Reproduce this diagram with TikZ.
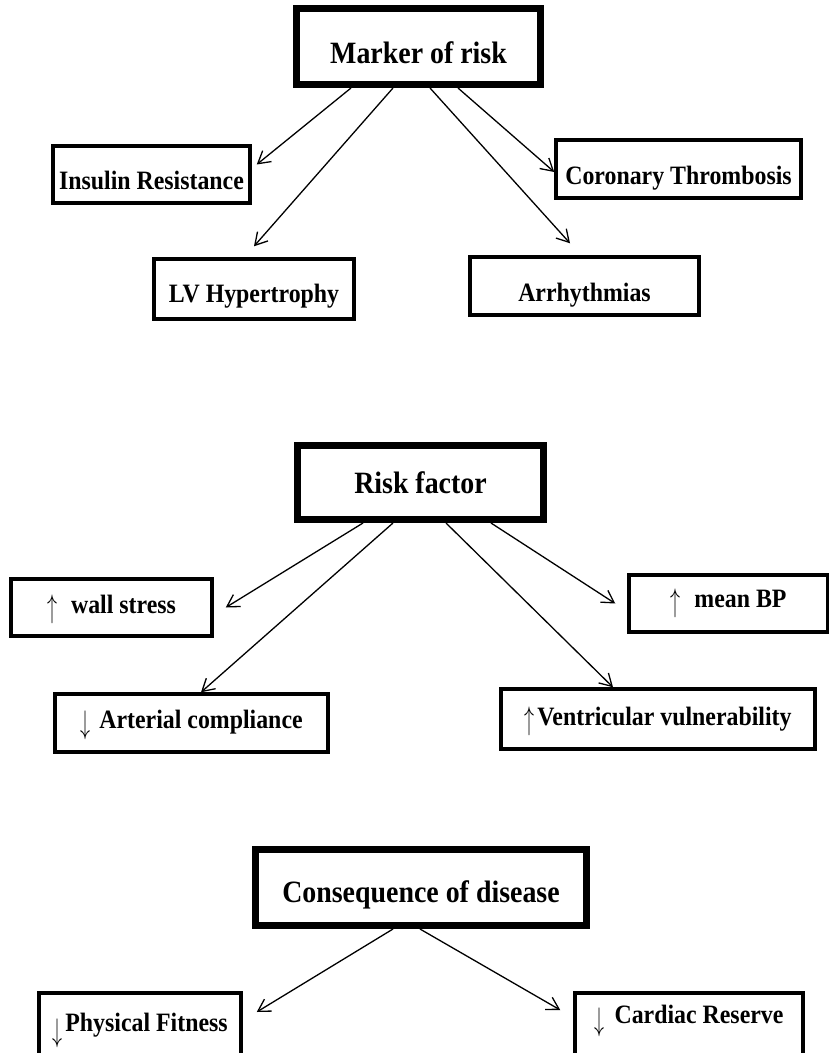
\documentclass[tikz,border=0pt]{standalone}
\usepackage{fontspec}
\setmainfont{Liberation Serif}[FakeStretch=0.9]
\usetikzlibrary{arrows.meta}
\newcommand{\upar}[1][-11pt]{\raisebox{#1}{\resizebox*{10pt}{29pt}{\raisebox{\depth}{$\uparrow$}}}}
\newcommand{\dnar}[1][-11pt]{\raisebox{#1}{\resizebox*{10pt}{29pt}{\raisebox{\depth}{$\downarrow$}}}}
\begin{document}
\begin{tikzpicture}[x=1pt,y=-1pt,>={Straight Barb[length=12pt,width=14pt]},
 head/.style={draw,line width=7pt,text depth=0pt,font=\fontsize{31}{33}\selectfont\bfseries},
 leaf/.style={draw,line width=3.5pt,text depth=0pt,font=\fontsize{26.5}{28}\selectfont\bfseries},
 link/.style={->,line width=1.3pt}]
 \useasboundingbox (0,0) rectangle (828,1053);
 % marker of risk
 \node[head,minimum width=244pt,minimum height=76pt,text height=33pt] (marker) at (418.5,46.5) {Marker of risk};
 \node[leaf,minimum width=197pt,minimum height=57pt,text height=29pt] (insulin) at (151.5,174.5) {Insulin Resistance};
 \node[leaf,minimum width=245pt,minimum height=58pt,text height=30pt] (coronary) at (678.5,169) {Coronary Thrombosis};
 \node[leaf,minimum width=200pt,minimum height=60pt,text height=26pt] (lvh) at (254,289) {LV Hypertrophy};
 \node[leaf,minimum width=229pt,minimum height=58pt,text height=30pt] (arrhyth) at (584.5,286) {Arrhythmias};
 \draw[link] ([xshift=-67.5pt]marker.south) -- ([xshift=5pt,yshift=10pt]insulin.east);
 \draw[link] ([xshift=-25.5pt]marker.south) -- ([yshift=11pt]lvh.north);
 \draw[link] ([xshift=11.5pt]marker.south) -- ([xshift=-14.5pt,yshift=12pt]arrhyth.north);
 \draw[link] ([xshift=39.5pt]marker.south) -- ([yshift=-3pt]coronary.west);
 % risk factor
 \node[head,minimum width=246pt,minimum height=74pt,text height=21pt] (risk) at (420.5,482.5) {Risk factor};
 \node[leaf,minimum width=201pt,minimum height=57pt,text height=11pt] (wall) at (111.5,607.5) {\upar\hspace{14pt}wall stress};
 \node[leaf,minimum width=199pt,minimum height=57pt,text height=7pt] (meanbp) at (728.5,603.5) {\upar\hspace{14pt}mean BP\hspace{28pt}};
 \node[leaf,minimum width=273pt,minimum height=58pt,text height=10pt] (arterial) at (191.5,723) {\dnar[-12pt]\hspace{9pt}Arterial compliance};
 \node[leaf,minimum width=314pt,minimum height=60pt,text height=12pt] (ventric) at (658,719) {\upar\hspace{3pt}Ventricular vulnerability};
 \draw[link] ([xshift=-57.5pt]risk.south) -- ([xshift=12pt]wall.east);
 \draw[link] ([xshift=-27.5pt]risk.south) -- ([xshift=9.5pt]arterial.north);
 \draw[link] ([xshift=25.5pt]risk.south) -- ([xshift=-45pt]ventric.north);
 \draw[link] ([xshift=70.5pt]risk.south) -- ([xshift=-12pt]meanbp.west);
 % consequence of disease
 \node[head,minimum width=331pt,minimum height=76pt,text height=29pt] (conseq) at (421,887.5) {Consequence of disease};
 \node[leaf,minimum width=202pt,minimum height=63pt,text height=13pt] (fitness) at (140,1024.5) {\dnar[-17pt]\hspace{3pt}Physical Fitness};
 \node[leaf,minimum width=228pt,minimum height=63pt,text height=0pt,text depth=3pt] (reserve) at (689,1024.5) {\dnar[-14pt]\hspace{10pt}Cardiac Reserve};
 \draw[link] ([xshift=-28pt]conseq.south) -- ([xshift=14pt,yshift=12.5pt]fitness.east);
 \draw[link] ([xshift=-1pt]conseq.south) -- ([xshift=-13pt,yshift=14.5pt]reserve.west);
\end{tikzpicture}
\end{document}
